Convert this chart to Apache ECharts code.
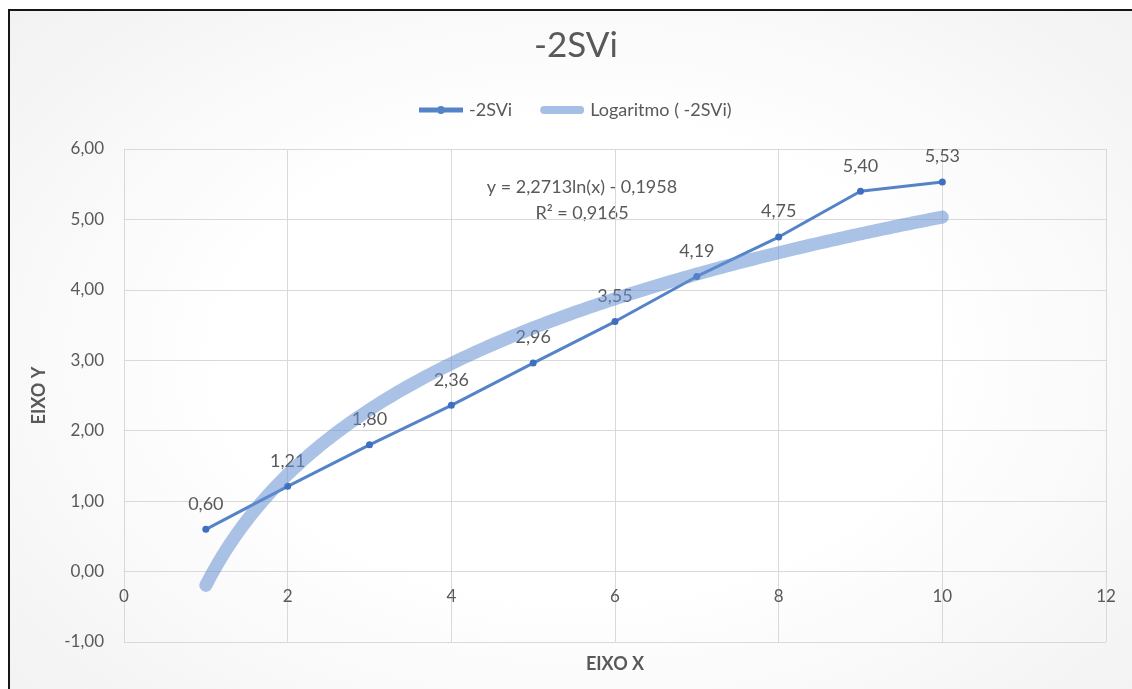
<!DOCTYPE html>
<html>
<head>
<meta charset="utf-8">
<script src="https://cdn.jsdelivr.net/npm/echarts@6/dist/echarts.min.js"></script>
<style>
  html, body { margin: 0; padding: 0; width: 1132px; height: 689px; overflow: hidden; background: #ffffff; }
  #frame {
    position: absolute; left: 8px; top: 9px; width: 1140px; height: 700px;
    border-left: 2px solid #161616; border-top: 2px solid #161616;
    background: radial-gradient(ellipse 70% 75% at 50% 50%, #ffffff 45%, #f1f1f1 100%);
  }
  #chart { position: absolute; left: 0; top: 0; width: 1132px; height: 689px; }
</style>
</head>
<body>
<div id="frame"></div>
<div id="chart"></div>
<script>
// Observed points of -2SVi
const xValues = [1, 2, 3, 4, 5, 6, 7, 8, 9, 10];
const yValues = [0.60, 1.21, 1.80, 2.36, 2.96, 3.55, 4.19, 4.75, 5.40, 5.53];

// Logarithmic trendline as printed on the chart: y = a*ln(x) + b
const trendA = 2.2713;
const trendB = -0.1958;
const trendR2 = 0.9165;

const xTicks = { min: 0, max: 12, interval: 2 };
const yTicks = { min: -1, max: 6, interval: 1 };

const seriesName = '-2SVi';
const trendName = 'Logaritmo ( -2SVi)';

const comma = (v, d) => v.toFixed(d).replace('.', ',');

const pointData = xValues.map((x, i) => [x, yValues[i]]);
const trendData = [];
for (let k = 0; k <= 180; k++) {
  const x = xValues[0] + (xValues[xValues.length - 1] - xValues[0]) * k / 180;
  trendData.push([x, trendA * Math.log(x) + trendB]);
}

const FONT = 'Lato, "Open Sans", sans-serif';
const GREY = '#595959';
const GRID = '#d9d9d9';
const LINE = '#5583c8';
const TREND = 'rgba(100,143,210,0.55)';

// plot rectangle
const GRID_BOX = { left: 124, top: 149, right: 26, bottom: 47 };
const plotHeight = 689 - GRID_BOX.top - GRID_BOX.bottom;
// the horizontal axis sits on y = 0, so lift it from the bottom edge
const xAxisLift = plotHeight * (0 - yTicks.min) / (yTicks.max - yTicks.min);

// legend glyphs: thin bar with a dot, and a rounded thick bar
const ICON_LINE = 'path://M0,1.5H44V6.5H0Z M26,4A4,4,0,1,1,18,4A4,4,0,1,1,26,4Z';
const ICON_TREND = 'path://M4,0H40A4,4,0,0,1,40,8H4A4,4,0,0,1,4,0Z';

const chart = echarts.init(document.getElementById('chart'), null, { renderer: 'canvas' });
chart.setOption({
  backgroundColor: 'transparent',
  animation: false,
  textStyle: { fontFamily: FONT },
  title: {
    text: '-2SVi',
    left: 571, top: 23, textAlign: 'center',
    textStyle: { fontFamily: FONT, fontSize: 35, fontWeight: 'normal', color: GREY }
  },
  legend: {
    data: [
      { name: seriesName, icon: ICON_LINE, itemStyle: { color: LINE } },
      { name: trendName, icon: ICON_TREND, itemStyle: { color: '#a6bfe4' } }
    ],
    top: 96, left: 414,
    itemWidth: 46, itemHeight: 8, itemGap: 28,
    textStyle: { fontFamily: FONT, fontSize: 18, color: GREY }
  },
  grid: Object.assign({ containLabel: false, outerBoundsMode: 'none' }, GRID_BOX),
  xAxis: {
    type: 'value',
    min: xTicks.min, max: xTicks.max, interval: xTicks.interval,
    offset: -xAxisLift,
    name: 'EIXO X', nameLocation: 'middle', nameGap: 84,
    nameTextStyle: { fontFamily: FONT, fontSize: 18, fontWeight: 'bold', color: GREY },
    axisLine: { show: true, onZero: false, lineStyle: { color: GRID, width: 1 } },
    axisTick: { show: false },
    axisLabel: { color: GREY, fontSize: 17, margin: 16, fontFamily: FONT },
    splitLine: { show: true, lineStyle: { color: GRID, width: 1 } }
  },
  yAxis: {
    type: 'value',
    min: yTicks.min, max: yTicks.max, interval: yTicks.interval,
    name: 'EIXO Y', nameLocation: 'middle', nameGap: 76, nameRotate: 90,
    nameTextStyle: { fontFamily: FONT, fontSize: 18, fontWeight: 'bold', color: GREY },
    axisLine: { show: false },
    axisTick: { show: false },
    axisLabel: { color: GREY, fontSize: 17, margin: 20, fontFamily: FONT, formatter: v => comma(v, 2) },
    splitLine: { show: true, lineStyle: { color: GRID, width: 1 } }
  },
  series: [
    {
      name: seriesName,
      type: 'line',
      data: pointData,
      z: 2,
      symbol: 'circle', symbolSize: 7,
      itemStyle: { color: '#3f6fbf' },
      lineStyle: { color: LINE, width: 3 },
      label: {
        show: true, position: 'top', distance: 13,
        color: GREY, fontSize: 18, fontFamily: FONT,
        formatter: p => comma(p.value[1], 2)
      }
    },
    {
      name: trendName,
      type: 'line',
      data: trendData,
      z: 3,
      symbol: 'none',
      itemStyle: { color: TREND },
      lineStyle: { color: TREND, width: 13, cap: 'round', join: 'round' }
    }
  ],
  graphic: [
    {
      type: 'text', x: 582, y: 174,
      style: {
        text: 'y = ' + comma(trendA, 4) + 'ln(x) - ' + comma(-trendB, 4) + '\nR² = ' + comma(trendR2, 4),
        fill: GREY, font: '18px ' + FONT, align: 'center', textAlign: 'center', lineHeight: 26
      }
    }
  ]
});
</script>
</body>
</html>
